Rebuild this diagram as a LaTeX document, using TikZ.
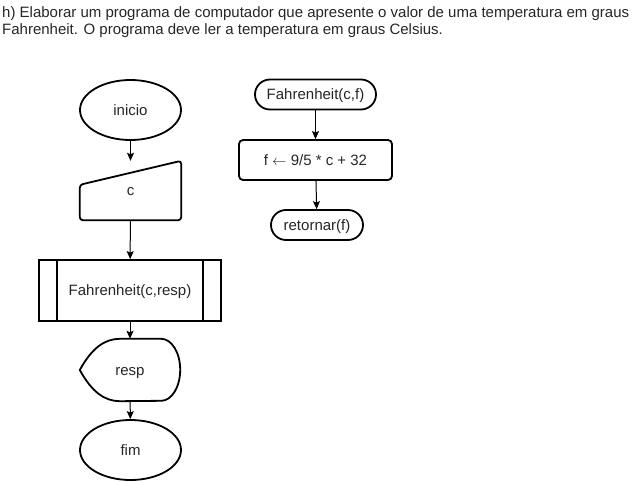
\documentclass[tikz,border=0pt]{standalone}
\usepackage{fontspec}
\setmainfont{Liberation Sans}
\usetikzlibrary{arrows.meta,shapes.geometric,calc}

\begin{document}
\begin{tikzpicture}[x=1pt,y=-1pt,
    every node/.style={font=\fontsize{15}{17}\selectfont, text=black!85},
    label box/.style={text height=13.5pt, text depth=3.2pt},
    border/.style={draw, line width=1.8pt, label box},
    oval/.style={border, ellipse, minimum width=101pt, minimum height=60pt, inner sep=0pt},
    term/.style={border, rounded corners=15pt, minimum height=30pt, inner sep=0pt},
    proc/.style={border, rounded corners=4pt, minimum width=153pt, minimum height=40pt},
    link/.style={-{Stealth[length=8pt, width=7pt, inset=1.5pt]}, line width=1pt}]
    \useasboundingbox (0,0) rectangle (641,482);

    % Statement of the exercise
    \node[anchor=north west, inner sep=0pt, align=left] (task) at (2,6) {h) Elaborar um programa de computador que apresente o valor de uma temperatura em graus\\Fahrenheit. O programa deve ler a temperatura em graus Celsius.};

    % Main program
    \node[oval] (inicio) at (130.5,110) {inicio};
    \node[label box, minimum width=101pt, minimum height=59pt, inner sep=0pt] (c) at (130.5,190.5) {c};
    \draw[border, rounded corners=3pt] (c.south west) -- ($(c.north west)+(0,24)$) -- (c.north east) -- (c.south east) -- cycle;
    \node[border, minimum width=182pt, minimum height=61pt] (sub) at (130,290.5) {Fahrenheit(c,resp)};
    \draw[border] ($(sub.north west)+(19,0)$) -- ($(sub.south west)+(19,0)$);
    \draw[border] ($(sub.north east)+(-19,0)$) -- ($(sub.south east)+(-19,0)$);
    \node[label box, minimum width=100pt, minimum height=62pt, inner sep=0pt] (resp) at (130,370) {resp};
    \draw[border] (resp.west) .. controls ($(resp.west)+(12,-22)$) and ($(resp.north west)+(25,0)$) .. ($(resp.north west)+(40,0)$)
        -- ($(resp.north east)+(-19,0)$) arc[start angle=90, end angle=-90, x radius=19pt, y radius=31pt]
        -- ($(resp.south west)+(40,0)$) .. controls ($(resp.south west)+(25,0)$) and ($(resp.west)+(12,22)$) .. cycle;
    \node[oval] (fim) at (130.5,450) {fim};

    \draw[link] (inicio) -- (c);
    \draw[link] (c) -- (sub);
    \draw[link] (sub) -- (resp);
    \draw[link] (resp) -- (fim);

    % Function Fahrenheit
    \node[term, minimum width=121pt] (fahr) at (315.5,94.5) {Fahrenheit(c,f)};
    \node[proc] (conv) at (315.5,160) {f $\leftarrow$ 9/5 * c + 32};
    \node[term, minimum width=92pt] (ret) at (317,225) {retornar(f)};

    \draw[link] (fahr) -- (conv);
    \draw[link] (conv) -- (ret);
\end{tikzpicture}
\end{document}
